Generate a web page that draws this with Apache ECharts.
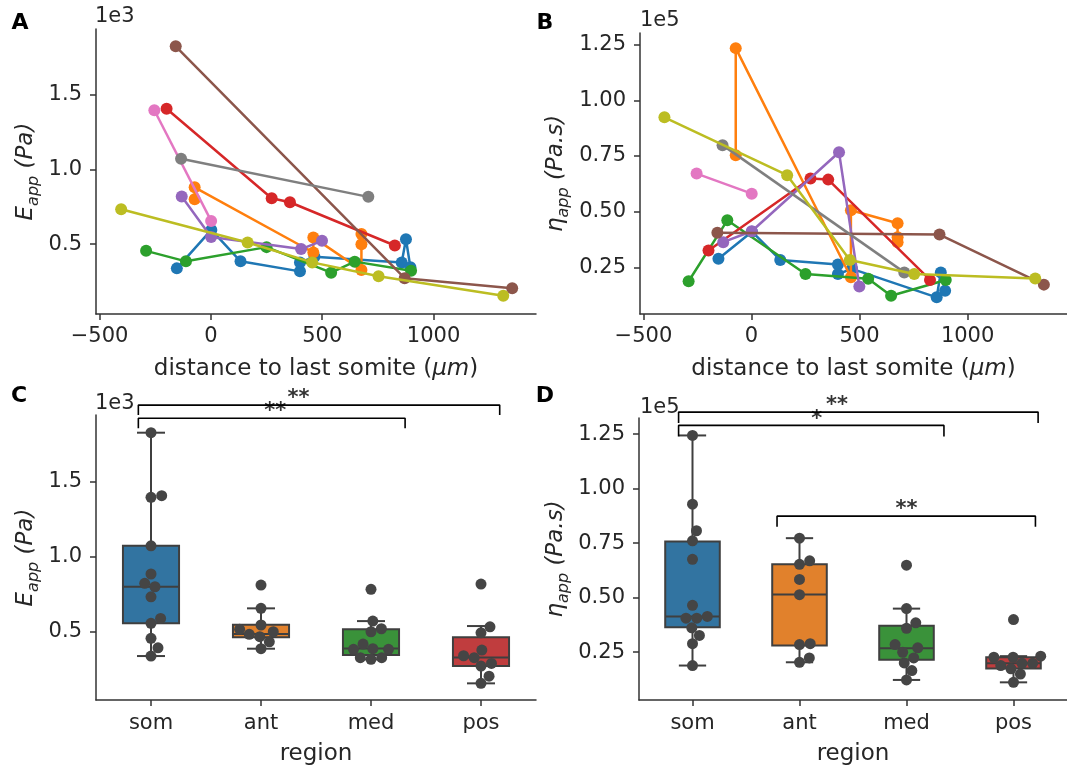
<!DOCTYPE html>
<html><head><meta charset="utf-8">
<script src="https://cdn.jsdelivr.net/npm/echarts@6/dist/echarts.min.js"></script>
<style>html,body{margin:0;padding:0;background:#fff}#c{width:1067px;height:769px}</style>
</head><body><div id="c"></div>
<script>
// ---------------- DATA ----------------
// distance to last somite (um) per embryo, with E_app (x1e3 Pa) and eta_app (x1e5 Pa.s)
const distBlue   = [-153, 2, 133, 400, 400, 465, 857, 876, 896];
const eBlue      = [0.338, 0.595, 0.385, 0.318, 0.378, 0.415, 0.378, 0.533, 0.345];
const etaBlue    = [0.288, 0.410, 0.283, 0.262, 0.220, 0.243, 0.115, 0.227, 0.145];

const distOrange = [-73, -73, 460, 460, 676, 676, 676];
const eOrange    = [0.800, 0.880, 0.444, 0.545, 0.327, 0.500, 0.567];
const etaOrange  = [0.754, 1.235, 0.205, 0.506, 0.448, 0.385, 0.363];

const distGreen  = [-291, -112, 250, 540, 646, 899];
const eGreen     = [0.455, 0.385, 0.480, 0.309, 0.383, 0.322];
const etaGreen   = [0.187, 0.461, 0.220, 0.198, 0.122, 0.193];

const distRed    = [-199, 273, 355, 826];
const eRed       = [1.405, 0.807, 0.780, 0.491];
const etaRed     = [0.325, 0.649, 0.644, 0.193];

const distPurple = [-131, 1, 405, 499];
const ePurple    = [0.818, 0.547, 0.467, 0.522];
const etaPurple  = [0.363, 0.412, 0.767, 0.164];

const distBrown  = [-158, 870, 1353];
const eBrown     = [1.822, 0.272, 0.205];
const etaBrown   = [0.405, 0.397, 0.172];

const distPink   = [-254, 1];
const ePink      = [1.395, 0.655];
const etaPink    = [0.671, 0.581];

const distGray   = [-134, 707];
const eGray      = [1.071, 0.816];
const etaGray    = [0.799, 0.227];

const distOlive  = [-403, 165, 455, 753, 1313];
const eOlive     = [0.733, 0.511, 0.378, 0.285, 0.155];
const etaOlive   = [0.924, 0.664, 0.283, 0.220, 0.200];

const categories = ['som', 'ant', 'med', 'pos'];

// strip points per region
const stripE_som = [1.827, 1.407, 1.396, 1.073, 0.885, 0.823, 0.800, 0.733, 0.589, 0.556, 0.456, 0.393, 0.338];
const stripE_ant = [0.811, 0.656, 0.545, 0.516, 0.500, 0.483, 0.467, 0.433, 0.387];
const stripE_med = [0.783, 0.571, 0.520, 0.500, 0.418, 0.387, 0.383, 0.383, 0.327, 0.327, 0.316];
const stripE_pos = [0.818, 0.533, 0.493, 0.378, 0.340, 0.327, 0.289, 0.271, 0.204, 0.156];

const stripEta_som = [1.244, 0.929, 0.807, 0.761, 0.676, 0.465, 0.414, 0.406, 0.406, 0.362, 0.327, 0.289, 0.189];
const stripEta_ant = [0.773, 0.669, 0.653, 0.584, 0.514, 0.289, 0.285, 0.224, 0.204];
const stripEta_med = [0.649, 0.450, 0.385, 0.360, 0.285, 0.270, 0.250, 0.224, 0.201, 0.166, 0.123];
const stripEta_pos = [0.400, 0.232, 0.227, 0.227, 0.199, 0.199, 0.189, 0.174, 0.150, 0.112];

// box stats: [lower whisker, Q1, median, Q3, upper whisker]
const boxE_som = [0.338, 0.556, 0.800, 1.073, 1.827];
const boxE_ant = [0.387, 0.463, 0.485, 0.547, 0.656];
const boxE_med = [0.316, 0.345, 0.389, 0.516, 0.571];
const boxE_pos = [0.156, 0.271, 0.329, 0.463, 0.538];

const boxEta_som = [0.189, 0.365, 0.414, 0.758, 1.244];
const boxEta_ant = [0.204, 0.281, 0.515, 0.653, 0.773];
const boxEta_med = [0.123, 0.215, 0.268, 0.371, 0.450];
const boxEta_pos = [0.112, 0.176, 0.199, 0.227, 0.232];

// tick labels
const distTicks = [-500, 0, 500, 1000];
const eTicks = [0.5, 1.0, 1.5];
const etaTicks = [0.25, 0.50, 0.75, 1.00, 1.25];

// significance annotations (category pairs and labels)
const sigC = [['som', 'pos', '**'], ['som', 'med', '**']];
const sigD = [['som', 'pos', '**'], ['som', 'med', '*'], ['ant', 'pos', '**']];

// ---------------- LAYOUT / STYLE ----------------
const FONT = 'DejaVu Sans';
const TXT = '#262626';
const lineColors = ['#1f77b4', '#ff7f0e', '#2ca02c', '#d62728', '#9467bd', '#8c564b', '#e377c2', '#7f7f7f', '#bcbd22'];
const boxColors = ['#3274a1', '#e1812c', '#3a923a', '#c03d3e'];
const G = {
  A: {left: 96, top: 29, width: 440, height: 285},
  B: {left: 640, top: 33, width: 430, height: 281},
  C: {left: 96, top: 415, width: 440, height: 285},
  D: {left: 639, top: 418, width: 431, height: 282}
};
const RANGE = {
  x: [-516, 1460], A: [0.033, 1.938], B: [0.04, 1.303], C: [0.045, 1.945], D: [0.031, 1.324]
};
// bracket geometry in (category units, value units)
const bracketC = [
  {x1: -0.115, x2: 3.17, y: 2.011, leg: 1.945, tx: 1.34, ty: 2.058},
  {x1: -0.115, x2: 2.31, y: 1.923, leg: 1.856, tx: 1.13, ty: 1.966}
];
const bracketD = [
  {x1: -0.13, x2: 3.23, y: 1.351, leg: 1.301, tx: 1.35, ty: 1.382},
  {x1: -0.13, x2: 2.35, y: 1.290, leg: 1.239, tx: 1.16, ty: 1.318},
  {x1: 0.79, x2: 3.205, y: 0.874, leg: 0.825, tx: 2.0, ty: 0.905}
];

const sets = [
  [distBlue, eBlue, etaBlue], [distOrange, eOrange, etaOrange], [distGreen, eGreen, etaGreen],
  [distRed, eRed, etaRed], [distPurple, ePurple, etaPurple], [distBrown, eBrown, etaBrown],
  [distPink, ePink, etaPink], [distGray, eGray, etaGray], [distOlive, eOlive, etaOlive]
];
const stripE = [stripE_som, stripE_ant, stripE_med, stripE_pos];
const stripEta = [stripEta_som, stripEta_ant, stripEta_med, stripEta_pos];
const boxE = [boxE_som, boxE_ant, boxE_med, boxE_pos];
const boxEta = [boxEta_som, boxEta_ant, boxEta_med, boxEta_pos];

const minus = v => (v < 0 ? '\u2212' : '') + Math.abs(v);

function swarm(vals, pxPerY, pxPerX, d) {
  const order = vals.map((v, i) => i).sort((a, b) => vals[a] - vals[b]);
  const placed = [];
  const off = new Array(vals.length).fill(0);
  for (const i of order) {
    const y = vals[i] * pxPerY;
    const cands = [0];
    for (const p of placed) {
      const dy = y - p.y;
      if (Math.abs(dy) < d) {
        const dx = Math.sqrt(d * d - dy * dy);
        cands.push(p.x + dx + 0.01, p.x - dx - 0.01);
      }
    }
    cands.sort((a, b) => Math.abs(a) - Math.abs(b));
    let best = 0;
    for (const c of cands) {
      if (placed.every(p => (p.x - c) ** 2 + (p.y - y) ** 2 >= d * d - 0.05)) { best = c; break; }
    }
    placed.push({x: best, y});
    off[i] = best / pxPerX;
  }
  return off;
}

const NAME_SIZE = 23;
const TICK_SIZE = 21;
const axisLine = {onZero: false, lineStyle: {color: '#333', width: 1.5}};
const axisTick = {length: 6, lineStyle: {color: '#333', width: 1.5}};
const lbl = {color: TXT, fontFamily: FONT, fontSize: TICK_SIZE};

function yAxisDef(grid, range, ticks, digits, nameStr, gap) {
  return {
    type: 'value', gridIndex: grid, min: range[0], max: range[1],
    axisLine: Object.assign({show: true}, axisLine), splitLine: {show: false},
    axisTick: Object.assign({show: true, customValues: ticks}, axisTick),
    axisLabel: Object.assign({customValues: ticks, margin: 14, formatter: v => v.toFixed(digits)}, lbl),
    name: nameStr, nameLocation: 'middle', nameGap: gap,
    nameTextStyle: {color: TXT, fontFamily: FONT, fontSize: NAME_SIZE,
      rich: {i: {fontStyle: 'italic', fontSize: NAME_SIZE, lineHeight: 32, fontFamily: FONT, color: TXT},
             s: {fontStyle: 'italic', fontSize: 16, lineHeight: 16, verticalAlign: 'bottom', fontFamily: FONT, color: TXT}}}
  };
}
function xDistDef(grid) {
  return {
    type: 'value', gridIndex: grid, min: RANGE.x[0], max: RANGE.x[1],
    axisLine: Object.assign({show: true}, axisLine), splitLine: {show: false},
    axisTick: Object.assign({show: true, customValues: distTicks}, axisTick),
    axisLabel: Object.assign({customValues: distTicks, margin: 12, formatter: minus}, lbl),
    name: 'distance to last somite ({i|\u03bcm})', nameLocation: 'middle', nameGap: 44,
    nameTextStyle: {color: TXT, fontFamily: FONT, fontSize: NAME_SIZE, rich: {i: {fontStyle: 'italic', fontSize: NAME_SIZE, fontFamily: FONT, color: TXT}}}
  };
}
function xCatDef(grid) {
  return {
    type: 'category', gridIndex: grid, data: categories, boundaryGap: true,
    axisLine: Object.assign({show: true}, axisLine),
    axisTick: Object.assign({show: true, alignWithLabel: true}, axisTick),
    axisLabel: Object.assign({margin: 13}, lbl),
    name: 'region', nameLocation: 'middle', nameGap: 43,
    nameTextStyle: {color: TXT, fontFamily: FONT, fontSize: NAME_SIZE}
  };
}
function xHiddenDef(grid) {
  return {type: 'value', gridIndex: grid, min: -0.5, max: 3.5, show: false, axisLine: {onZero: false}};
}

const series = [];
sets.forEach((s, k) => {
  const [d, e, eta] = s;
  const common = {type: 'line', symbol: 'circle', symbolSize: 12, showSymbol: true, silent: true,
    lineStyle: {width: 2.5, color: lineColors[k]}, itemStyle: {color: lineColors[k]}, z: 2 + k * 0.01};
  series.push(Object.assign({xAxisIndex: 0, yAxisIndex: 0, data: d.map((x, i) => [x, e[i]])}, common));
  series.push(Object.assign({xAxisIndex: 1, yAxisIndex: 1, data: d.map((x, i) => [x, eta[i]])}, common));
});

function renderBox(params, api) {
  const i = api.value(0);
  const band = api.size([1, 0])[0];
  const bw = band * 0.51;
  const cx = api.coord([i, api.value(3)])[0];
  const y = k => api.coord([i, api.value(k)])[1];
  const yLo = y(1), yQ1 = y(2), yMd = y(3), yQ3 = y(4), yHi = y(5);
  const st = {stroke: '#3f3f3f', lineWidth: 2};
  return {type: 'group', children: [
    {type: 'line', shape: {x1: cx, y1: yQ3, x2: cx, y2: yHi}, style: st},
    {type: 'line', shape: {x1: cx, y1: yQ1, x2: cx, y2: yLo}, style: st},
    {type: 'line', shape: {x1: cx - bw / 4, y1: yHi, x2: cx + bw / 4, y2: yHi}, style: st},
    {type: 'line', shape: {x1: cx - bw / 4, y1: yLo, x2: cx + bw / 4, y2: yLo}, style: st},
    {type: 'rect', shape: {x: cx - bw / 2, y: yQ3, width: bw, height: yQ1 - yQ3}, style: {fill: boxColors[i], stroke: '#3f3f3f', lineWidth: 2}},
    {type: 'line', shape: {x1: cx - bw / 2, y1: yMd, x2: cx + bw / 2, y2: yMd}, style: st}
  ]};
}

function addBoxPanel(xCat, xHid, yIdx, boxes, strips, grid, range, brackets, sigs) {
  series.push({type: 'custom', xAxisIndex: xCat, yAxisIndex: yIdx, renderItem: renderBox, silent: true,
    encode: {x: 0, y: [1, 2, 3, 4, 5]},
    data: boxes.map((b, i) => [i].concat(b)), z: 2});
  const pxY = grid.height / (range[1] - range[0]);
  const pxX = grid.width / 4;
  const pts = [];
  strips.forEach((vals, i) => {
    const off = swarm(vals, pxY, pxX, 10.8);
    vals.forEach((v, j) => pts.push([i + off[j], v]));
  });
  series.push({type: 'scatter', xAxisIndex: xHid, yAxisIndex: yIdx, symbolSize: 11, silent: true,
    itemStyle: {color: '#454545', opacity: 1}, data: pts, z: 3});
  brackets.forEach((b, k) => {
    series.push({type: 'line', xAxisIndex: xHid, yAxisIndex: yIdx, clip: false, symbol: 'none', silent: true,
      lineStyle: {color: '#000', width: 1.6},
      data: [[b.x1, b.leg], [b.x1, b.y], [b.x2, b.y], [b.x2, b.leg]], z: 4});
    series.push({type: 'scatter', xAxisIndex: xHid, yAxisIndex: yIdx, clip: false, symbolSize: 0, silent: true,
      data: [[b.tx, b.ty]],
      label: {show: true, position: 'inside', formatter: sigs[k][2], color: '#000', fontFamily: FONT, fontSize: 21, fontWeight: 'bold'}, z: 5});
  });
}
addBoxPanel(2, 4, 2, boxE, stripE, G.C, RANGE.C, bracketC, sigC);
addBoxPanel(3, 5, 3, boxEta, stripEta, G.D, RANGE.D, bracketD, sigD);

const eName = '{i|E}{s|app} {i|(Pa)}';
const etaName = '{i|\u03b7}{s|app} {i|(Pa.s)}';

const txt = (x, y, s, extra) => ({type: 'text', x, y, style: Object.assign({text: s, fill: TXT, font: '21px "DejaVu Sans"', textVerticalAlign: 'middle'}, extra || {})});
const letter = (x, y, s) => ({type: 'text', x, y, style: {text: s, fill: '#000', font: 'bold 22px "DejaVu Sans"', textAlign: 'center', textVerticalAlign: 'middle'}});

const option = {
  animation: false,
  backgroundColor: '#fff',
  grid: [G.A, G.B, G.C, G.D].map(g => Object.assign({containLabel: false}, g)),
  xAxis: [xDistDef(0), xDistDef(1), xCatDef(2), xCatDef(3), xHiddenDef(2), xHiddenDef(3)],
  yAxis: [
    yAxisDef(0, RANGE.A, eTicks, 1, eName, 54),
    yAxisDef(1, RANGE.B, etaTicks, 2, etaName, 68),
    yAxisDef(2, RANGE.C, eTicks, 1, eName, 54),
    yAxisDef(3, RANGE.D, etaTicks, 2, etaName, 67)
  ],
  series: series,
  graphic: [
    letter(20, 23, 'A'), letter(545, 23, 'B'), letter(19, 396, 'C'), letter(545, 396, 'D'),
    txt(95, 17, '1e3'), txt(640, 21, '1e5'), txt(95, 404, '1e3'), txt(640, 408, '1e5')
  ]
};
const chart = echarts.init(document.getElementById('c'), null, {renderer: 'canvas'});
chart.setOption(option);
</script></body></html>
